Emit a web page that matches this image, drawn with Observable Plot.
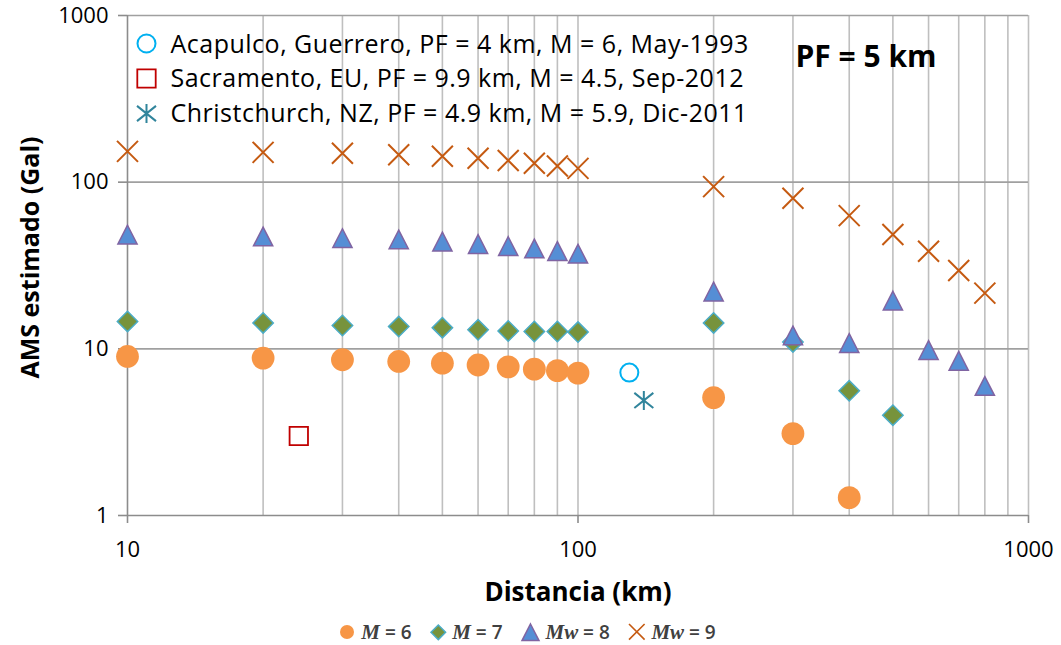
<!DOCTYPE html>
<html>
<head>
<meta charset="utf-8">
<script src="https://cdn.jsdelivr.net/npm/d3@7"></script>
<script src="https://cdn.jsdelivr.net/npm/@observablehq/plot@0.6"></script>
<style>
  body { margin: 0; background: #fff; font-family: "Open Sans", sans-serif; }
  #chart svg { display: block; }
  #legend { display: flex; justify-content: center; align-items: center; height: 40px; width: 1061px; font-size: 19px; font-weight: 600; color: #404040; padding-right: 6px; box-sizing: border-box; }
  #legend .item { display: flex; align-items: center; margin: 0 9px; }
  #legend svg { margin-right: 6px; overflow: visible; }
  #legend i { font-family: "Liberation Serif", serif; font-size: 21px; font-weight: 600; }
  .evlabel text { letter-spacing: 0.5px; }
</style>
</head>
<body>
<div id="chart"></div>
<div id="legend"></div>
<script>
// ---- data ----
const distM6  = [10, 20, 30, 40, 50, 60, 70, 80, 90, 100, 200, 300, 400];
const amsM6   = [9.0, 8.8, 8.6, 8.4, 8.2, 8.0, 7.8, 7.55, 7.4, 7.15, 5.1, 3.1, 1.28];
const distM7  = [10, 20, 30, 40, 50, 60, 70, 80, 90, 100, 200, 300, 400, 500];
const amsM7   = [14.6, 14.3, 13.8, 13.6, 13.4, 13.0, 12.8, 12.7, 12.7, 12.6, 14.3, 11.0, 5.6, 4.0];
const distMw8 = [10, 20, 30, 40, 50, 60, 70, 80, 90, 100, 200, 300, 400, 500, 600, 700, 800];
const amsMw8  = [48.3, 47.1, 46.0, 45.2, 43.9, 42.4, 41.2, 39.9, 38.5, 37.1, 22.0, 12.0, 10.8, 19.4, 9.8, 8.45, 5.97];
const distMw9 = [10, 20, 30, 40, 50, 60, 70, 80, 90, 100, 200, 300, 400, 500, 600, 700, 800];
const amsMw9  = [153, 151, 149, 146, 143, 139, 135, 130, 125, 121, 94, 80, 63, 48.5, 38.5, 29.5, 21.6];

const eventNames  = ["Acapulco", "Sacramento", "Christchurch"];
const eventLabels = [
  "Acapulco, Guerrero, PF = 4 km, M = 6, May-1993",
  "Sacramento, EU, PF = 9.9 km, M = 4.5, Sep-2012",
  "Christchurch, NZ, PF = 4.9 km, M = 5.9, Dic-2011"
];
const eventDist = [130, 24, 140];
const eventAms  = [7.2, 3.0, 4.9];

const seriesNames = ["M = 6", "M = 7", "Mw = 8", "Mw = 9"];
const xTicks = [10, 100, 1000];
const yTicks = [1, 10, 100, 1000];
const xGrid = [20, 30, 40, 50, 60, 70, 80, 90, 100, 200, 300, 400, 500, 600, 700, 800, 900, 1000];
const yGrid = [10, 100, 1000];
const pfLabel = "PF = 5 km";
const xLabel = "Distancia (km)";
const yLabel = "AMS estimado (Gal)";

// ---- symbols (custom, bbox-centred like the spreadsheet markers) ----
const rad = size => Math.sqrt(size / Math.PI);
const SYM = {
  circle:   {draw(c, s) { const r = rad(s); c.moveTo(r, 0); c.arc(0, 0, r, 0, 2 * Math.PI); }},
  diamond:  {draw(c, s) { const r = rad(s); c.moveTo(0, -r); c.lineTo(r, 0); c.lineTo(0, r); c.lineTo(-r, 0); c.closePath(); }},
  triangle: {draw(c, s) { const r = rad(s); c.moveTo(0, -r); c.lineTo(r, r * 0.95); c.lineTo(-r, r * 0.95); c.closePath(); }},
  times:    {draw(c, s) { const r = rad(s); c.moveTo(-r, -r); c.lineTo(r, r); c.moveTo(r, -r); c.lineTo(-r, r); }},
  square:   {draw(c, s) { const r = rad(s); c.rect(-r, -r, 2 * r, 2 * r); }},
  star:     {draw(c, s) { const r = rad(s); c.moveTo(0, -r); c.lineTo(0, r); c.moveTo(-r, -r * 0.8); c.lineTo(r, r * 0.8); c.moveTo(r, -r * 0.8); c.lineTo(-r, r * 0.8); }}
};

const series = [
  {dist: distM6,  ams: amsM6,  symbol: SYM.circle,   r: 11.4, fill: "#F79646", stroke: "none", sw: 0, lr: 7},
  {dist: distM7,  ams: amsM7,  symbol: SYM.diamond,  r: 10.2, fill: "#77933C", stroke: "#4BACC6", sw: 1.5, lr: 7.3},
  {dist: distMw8, ams: amsMw8, symbol: SYM.triangle, r: 9.6,  fill: "#558ED5", stroke: "#8064A2", sw: 1.5, lr: 8.5},
  {dist: distMw9, ams: amsMw9, symbol: SYM.times,    r: 10.5, fill: "none",    stroke: "#C55A11", sw: 2, lr: 7.8}
];
const events = [
  {symbol: SYM.circle, r: 9,   stroke: "#00B0F0", sw: 2},
  {symbol: SYM.square, r: 9.2, stroke: "#C00000", sw: 1.8},
  {symbol: SYM.star,   r: 9.5, stroke: "#31859C", sw: 2}
];

const seriesMarks = series.map(s => Plot.dot(s.dist.map((d, i) => ({d, v: s.ams[i]})), {
  x: "d", y: "v", symbol: s.symbol, r: s.r, fill: s.fill, stroke: s.stroke, strokeWidth: s.sw
}));
const eventMarks = events.map((e, i) => Plot.dot([{d: eventDist[i], v: eventAms[i]}], {
  x: "d", y: "v", symbol: e.symbol, r: e.r, fill: "none", stroke: e.stroke, strokeWidth: e.sw
}));
const legendDots = events.map((e, i) => Plot.dot([eventNames[i]], {
  frameAnchor: "top-left", dx: 19, dy: 28 + 35 * i, symbol: e.symbol, r: e.r, fill: "none", stroke: e.stroke, strokeWidth: e.sw
}));
const legendTexts = eventLabels.map((t, i) => Plot.text([t], {
  frameAnchor: "top-left", dx: 43, dy: 29 + 34.5 * i, textAnchor: "start", lineAnchor: "middle", fontSize: 25, fill: "#000", className: "evlabel"
}));

const chart = Plot.plot({
  width: 1061, height: 612,
  marginLeft: 127, marginRight: 33, marginTop: 15, marginBottom: 97,
  style: {fontFamily: "'Open Sans', sans-serif", color: "#000", background: "#fff"},
  x: {type: "log", domain: [10, 1000], axis: null},
  y: {type: "log", domain: [1, 1000], axis: null},
  marks: [
    Plot.ruleX(xGrid, {stroke: "#bfbfbf", strokeWidth: 1.6}),
    Plot.ruleY(yGrid, {stroke: "#a0a0a0", strokeWidth: 1.6}),
    Plot.ruleX([10], {stroke: "#8c8c8c", strokeWidth: 1.6}),
    Plot.ruleY([1], {stroke: "#8c8c8c", strokeWidth: 1.6}),
    Plot.axisX({ticks: xTicks, tickSize: 8, tickPadding: 18, tickFormat: d => String(d), stroke: "#8c8c8c", strokeWidth: 1.6, fill: "#000", fontSize: 22, label: null}),
    Plot.axisY({ticks: yTicks, tickSize: 9, tickPadding: 10, tickFormat: d => String(d), stroke: "#8c8c8c", strokeWidth: 1.6, fill: "#000", fontSize: 22, label: null}),
    Plot.text([xLabel], {frameAnchor: "bottom", dy: 77, textAnchor: "middle", lineAnchor: "middle", fontSize: 26, fontWeight: "bold", fill: "#000"}),
    Plot.text([yLabel], {frameAnchor: "left", dx: -97, dy: -8, rotate: -90, textAnchor: "middle", lineAnchor: "middle", fontSize: 25, fontWeight: "bold", fill: "#000"}),
    Plot.text([pfLabel], {frameAnchor: "top-left", dx: 668, dy: 42, textAnchor: "start", lineAnchor: "middle", fontSize: 30, fontWeight: "bold", fill: "#000"}),
    ...seriesMarks,
    ...eventMarks,
    ...legendDots,
    ...legendTexts
  ]
});
document.getElementById("chart").appendChild(chart);

// ---- bottom legend ----
const legend = document.getElementById("legend");
series.forEach((s, i) => {
  const item = document.createElement("div");
  item.className = "item";
  const r = s.lr;
  const path = d3.path();
  s.symbol.draw(path, Math.PI * r * r);
  item.innerHTML = `<svg width="${2 * r + 2}" height="${2 * r + 2}" viewBox="${-r - 1} ${-r - 1} ${2 * r + 2} ${2 * r + 2}"><path d="${path}" fill="${s.fill}" stroke="${s.stroke}" stroke-width="${s.sw ? Math.min(s.sw, 1.6) : 0}"/></svg>`;
  const [m, rest] = seriesNames[i].split(" = ");
  const label = document.createElement("span");
  label.innerHTML = `<i>${m}</i> = ${rest}`;
  item.appendChild(label);
  legend.appendChild(item);
});
</script>
</body>
</html>
